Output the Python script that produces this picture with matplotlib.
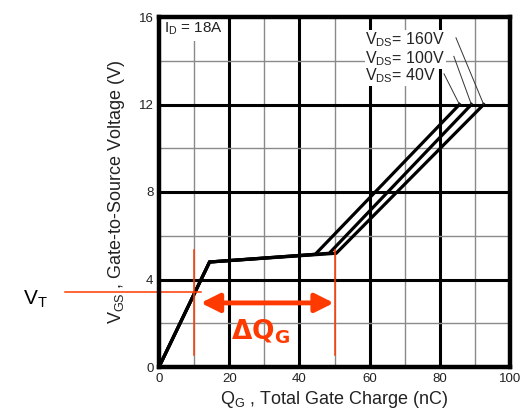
import numpy as np
import matplotlib.pyplot as plt

plt.rcParams['font.family'] = ['Liberation Sans', 'DejaVu Sans']

# gate charge curves, one per V_DS (QG in nC, VGS in V)
vds_labels = ["160V", "100V", "40V"]
qg_curves = [
    [0, 14.4, 50.5, 92.5],
    [0, 14.4, 48.5, 89.0],
    [0, 14.4, 44.5, 85.6],
]
vgs_curves = [
    [0, 4.8, 5.2, 12.0],
    [0, 4.8, 5.2, 12.0],
    [0, 4.8, 5.15, 12.0],
]

xticks = [0, 20, 40, 60, 80, 100]
yticks = [0, 4, 8, 12, 16]

# annotation values
vt = 3.45
qg_start = 10
qg_end = 50

red = '#ff3a00'

fig = plt.figure(figsize=(5.21, 4.17), dpi=100)
ax = fig.add_axes([159/521, 50/417, 351/521, 350/417])

ax.set_xlim(0, 100)
ax.set_ylim(0, 16)

# grid
for x in range(10, 100, 10):
    major = x % 20 == 0
    ax.axvline(x, color='black' if major else '#8a8a8a',
               lw=2.2 if major else 1.0, zorder=1)
for y in range(2, 16, 2):
    major = y % 4 == 0
    ax.axhline(y, color='black' if major else '#8a8a8a',
               lw=2.2 if major else 1.0, zorder=1)

for qg, vgs in zip(qg_curves, vgs_curves):
    ax.plot(qg, vgs, color='black', lw=2.3, solid_joinstyle='miter', zorder=3)

# labels inside plot
ax.text(1.5, 15.45, r'I$_\mathregular{D}$ = 18A', fontsize=11, va='center',
        color='#222222', zorder=4,
        bbox=dict(facecolor='white', edgecolor='none', pad=2.5))
label_y = [14.95, 14.1, 13.3]
label_x = [84.6, 84.0, 81.2]
for lab, ly, lx, qg, vgs in zip(vds_labels, label_y, label_x, qg_curves, vgs_curves):
    ax.text(58.8, ly, r'V$_\mathregular{DS}$= ' + lab, fontsize=11.5, va='center',
            color='#222222', zorder=4,
            bbox=dict(facecolor='white', edgecolor='none', pad=0.6))
    ax.plot([lx, qg[-1]], [ly + 0.1, vgs[-1]], color='#333333', lw=0.7, zorder=5)

# red annotations
ax.plot([-26.8, 11.9], [vt, vt], color=red, lw=1.1, clip_on=False, zorder=5)
for q in (qg_start, qg_end):
    ax.plot([q, q], [0.55, 5.35], color=red, lw=1.1, zorder=5)
ax.annotate('', xy=(49.8, 2.93), xytext=(11.9, 2.93),
            arrowprops=dict(arrowstyle='<|-|>', color=red, lw=3.5,
                            mutation_scale=28, shrinkA=0, shrinkB=0), zorder=6)
ax.text(28.8, 1.6, r'$\mathbf{\Delta Q_G}$', color=red, fontsize=19,
        ha='center', va='center', zorder=6)
fig.text(35/521, 1 - 299/417, r'V$_\mathregular{T}$', fontsize=15,
         ha='center', va='center', color='black')

ax.set_xticks(xticks)
ax.set_yticks(yticks)
ax.tick_params(length=0, labelsize=9.5, labelcolor='#222222', pad=4)
for s in ax.spines.values():
    s.set_linewidth(3.2)
    s.set_zorder(7)

ax.set_xlabel(r'Q$_\mathregular{G}$ , Total Gate Charge (nC)', fontsize=13,
              color='#222222', labelpad=3)
ax.set_ylabel(r'V$_\mathregular{GS}$ , Gate-to-Source Voltage (V)', fontsize=13,
              color='#222222', labelpad=8)

fig.savefig('out.png', dpi=100)
